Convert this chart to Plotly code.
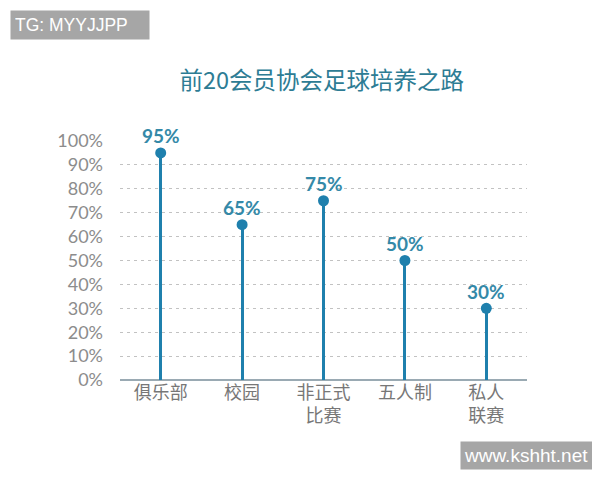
import plotly.graph_objects as go

categories = ["俱乐部", "校园", "非正式<br>比赛", "五人制", "私人<br>联赛"]
values = [95, 65, 75, 50, 30]
labels = ["95%", "65%", "75%", "50%", "30%"]
y_ticks = [0, 10, 20, 30, 40, 50, 60, 70, 80, 90, 100]
y_tick_labels = [f"{v}%" for v in y_ticks]

stem_color = "#1f80ad"
label_color = "#3489a8"
font_cjk = "Noto Sans CJK SC"

fig = go.Figure()
fig.add_trace(go.Bar(
    x=categories, y=values, width=0.036,
    marker=dict(color=stem_color, line=dict(width=0)),
    hoverinfo="skip", showlegend=False,
))
fig.add_trace(go.Scatter(
    x=categories, y=values, mode="markers",
    marker=dict(size=11, color=stem_color),
    showlegend=False, cliponaxis=False,
))

value_annotations = [
    dict(x=c, y=v, text=t, xref="x", yref="y", yshift=17, showarrow=False,
         xanchor="center", yanchor="middle",
         font=dict(family="Lato, Noto Sans", size=19, color=label_color, weight="bold"))
    for c, v, t in zip(categories, values, labels)
]

fig.update_layout(
    width=600, height=480,
    margin=dict(l=112, r=81, t=133, b=108),
    paper_bgcolor="white", plot_bgcolor="white",
    title=dict(text="前20会员协会足球培养之路", x=0.523, xanchor="center", y=0.848, yanchor="middle",
               font=dict(family=font_cjk, size=23.5, color="#2d7c94")),
    xaxis=dict(range=[-0.5, 4.5], showgrid=False, ticks="", showline=False, zeroline=False,
               tickfont=dict(family=font_cjk, size=18, color="#777777")),
    yaxis=dict(range=[0, 100], tickvals=y_ticks, ticktext=y_tick_labels,
               showgrid=True, gridcolor="#c2c2c2", griddash="3px,4px", gridwidth=1,
               zeroline=True, zerolinecolor="#9aaab3", zerolinewidth=1.5,
               ticks="", ticklabelstandoff=16,
               tickfont=dict(family="Lato, Noto Sans", size=18, color="#8c8c8c")),
    bargap=0,
    annotations=value_annotations + [
        dict(text="TG: MYYJJPP", xref="paper", yref="paper", x=-0.270, y=1.487, xanchor="left", yanchor="middle",
             showarrow=False, bgcolor="#a6a6a6", width=130, align="left",
             font=dict(family="Liberation Sans", size=17.5, color="white"), borderpad=4),
        dict(text="www.kshht.net", xref="paper", yref="paper", x=0.835, y=-0.314, xanchor="left", yanchor="middle",
             showarrow=False, bgcolor="#a6a6a6", width=126, align="left",
             font=dict(family="Liberation Sans", size=19, color="white"), borderpad=3),
    ],
)
fig.update_xaxes(tickangle=0)
fig.write_html("out.html")
